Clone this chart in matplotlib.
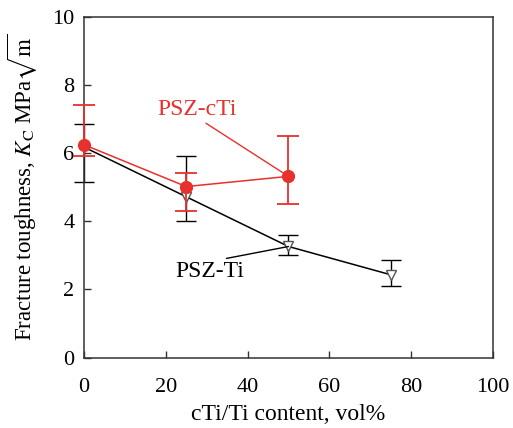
import matplotlib.pyplot as plt

plt.rcParams['font.family'] = 'Liberation Serif'
plt.rcParams['mathtext.fontset'] = 'stix'

# PSZ-cTi series
ctix = [0, 25, 50]
ctiy = [6.25, 5.02, 5.32]
cti_lo = [5.93, 4.29, 4.50]
cti_hi = [7.42, 5.43, 6.51]

# PSZ-Ti series
tix = [0, 25, 50, 75]
tiy = [6.18, 4.72, 3.26, 2.43]
ti_lo = [5.15, 4.00, 3.02, 2.09]
ti_hi = [6.85, 5.93, 3.59, 2.87]

red = '#e8302c'
frame = '#333333'

fig = plt.figure(figsize=(5.13, 4.28), dpi=100)
ax = fig.add_axes([0.1637, 0.1647, 0.7973, 0.7956])

eb1 = ax.errorbar(tix, tiy,
                  yerr=[[y - l for y, l in zip(tiy, ti_lo)], [h - y for y, h in zip(tiy, ti_hi)]],
                  color='black', lw=1.1, capsize=7, elinewidth=1, capthick=1,
                  marker='v', ms=7.5, mfc='white', mec='#555555', mew=1, zorder=2)
eb2 = ax.errorbar(ctix, ctiy,
                  yerr=[[y - l for y, l in zip(ctiy, cti_lo)], [h - y for y, h in zip(ctiy, cti_hi)]],
                  color=red, lw=1.1, capsize=8, elinewidth=1.3, capthick=1.3,
                  marker='o', ms=8.5, mfc=red, mec=red, zorder=3)
# let the bars at x=0 sit over the left spine
for eb in (eb1, eb2):
    for art in eb.get_children():
        art.set_clip_on(False)

ax.annotate('PSZ-cTi', xy=(ctix[2], ctiy[2]), xytext=(27.6, 7.27), color=red, fontsize=17,
            ha='center', va='center',
            arrowprops=dict(arrowstyle='-', color=red, lw=1, shrinkA=0, shrinkB=0,
                            relpos=(0.56, 0.0)))
ax.annotate('PSZ-Ti', xy=(tix[2], tiy[2]), xytext=(30.8, 2.52), color='black', fontsize=17,
            ha='center', va='center',
            arrowprops=dict(arrowstyle='-', color='black', lw=1, shrinkA=0, shrinkB=0,
                            relpos=(0.53, 1.0)))

ax.set_xlim(0, 100)
ax.set_ylim(0, 10)
ax.set_xticks(range(0, 101, 20))
ax.set_yticks(range(0, 11, 2))
ax.tick_params(direction='in', length=5, width=1, color=frame, labelsize=16)
ax.tick_params(axis='x', pad=15)
ax.tick_params(axis='y', pad=7)
for s in ax.spines.values():
    s.set_linewidth(1.1)
    s.set_color(frame)
ax.set_xlabel('cTi/Ti content, vol%', fontsize=17, labelpad=5)
ax.set_ylabel(r'Fracture toughness, $K_\mathrm{C}$ MPa$\sqrt{\mathrm{m}}$', fontsize=16.5, labelpad=9)

fig.savefig('out.png', dpi=100)
